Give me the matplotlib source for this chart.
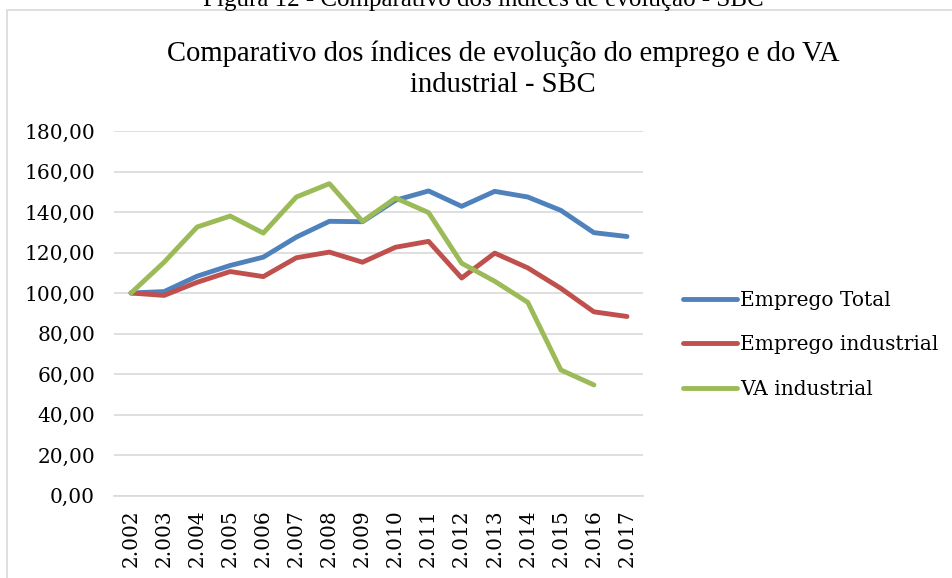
import matplotlib
matplotlib.use("Agg")
import matplotlib.pyplot as plt
from matplotlib.patches import Rectangle

# data
anos = ["2.002", "2.003", "2.004", "2.005", "2.006", "2.007", "2.008", "2.009",
        "2.010", "2.011", "2.012", "2.013", "2.014", "2.015", "2.016", "2.017"]
emprego_total = [100.0, 100.7, 108.3, 113.6, 117.7, 127.6, 135.4, 135.2,
                 145.8, 150.4, 142.8, 150.2, 147.4, 140.8, 129.8, 127.9]
emprego_industrial = [100.0, 98.8, 105.3, 110.6, 108.1, 117.4, 120.2, 115.2,
                      122.6, 125.5, 107.4, 119.7, 112.4, 102.3, 90.7, 88.4]
va_industrial = [100.0, 115.2, 132.6, 138.0, 129.6, 147.4, 154.0, 135.4,
                 146.9, 139.7, 114.7, 105.8, 95.4, 62.0, 54.6]
y_ticks = [0, 20, 40, 60, 80, 100, 120, 140, 160, 180]

W, H = 953, 578
fig = plt.figure(figsize=(W / 100, H / 100), dpi=100)

# chart frame (cut at the right side like the screenshot)
fig.patches.append(Rectangle((7 / W, -0.1), 1.2, 1 - 10.5 / H + 0.1,
                             transform=fig.transFigure, fill=False,
                             edgecolor="#d9d9d9", linewidth=1.2))

fig.text(483 / W, 1 - 6 / H, "Figura 12 - Comparativo dos índices de evolução - SBC",
         ha="center", va="baseline", fontsize=18, family="Liberation Serif")
fig.text(503 / W, 1 - 69 / H,
         "Comparativo dos índices de evolução do emprego e do VA\nindustrial - SBC",
         ha="center", va="center", fontsize=20.6, family="Liberation Serif",
         linespacing=1.25)

ax = fig.add_axes([114.5 / W, 1 - 495.5 / H, 529 / W, 364.5 / H])
x = list(range(len(anos)))
line_kw = dict(linewidth=3.5, solid_joinstyle="round", solid_capstyle="round")
ax.plot(x, emprego_total, color="#4f81bd", label="Emprego Total", **line_kw)
ax.plot(x, emprego_industrial, color="#c0504d", label="Emprego industrial", **line_kw)
ax.plot(x[:len(va_industrial)], va_industrial, color="#9bbb59", label="VA industrial", **line_kw)

ax.set_xlim(-0.5, len(anos) - 0.5)
ax.set_ylim(0, 180)
ax.set_yticks(y_ticks)
ax.set_yticklabels([f"{v:.2f}".replace(".", ",") for v in y_ticks],
                   family="DejaVu Serif", fontsize=14.5)
ax.set_xticks(x)
ax.set_xticklabels(anos, rotation=90, family="DejaVu Serif", fontsize=14.5)
ax.tick_params(axis="y", length=0, pad=14)
ax.tick_params(axis="x", length=0, pad=10)
ax.grid(axis="y", color="#d9d9d9", linewidth=1.2)
ax.set_axisbelow(True)
for side in ["top", "right", "left"]:
    ax.spines[side].set_visible(False)
ax.spines["bottom"].set_color("#d9d9d9")
ax.spines["bottom"].set_linewidth(1.2)

fig.legend(loc="center left", bbox_to_anchor=(683 / W, 1 - 345 / H),
           frameon=False, prop={"family": "DejaVu Serif", "size": 14.5},
           handlelength=2.7, handletextpad=0.15, labelspacing=1.25,
           borderpad=0, borderaxespad=0)

fig.savefig("out.png", dpi=100)
